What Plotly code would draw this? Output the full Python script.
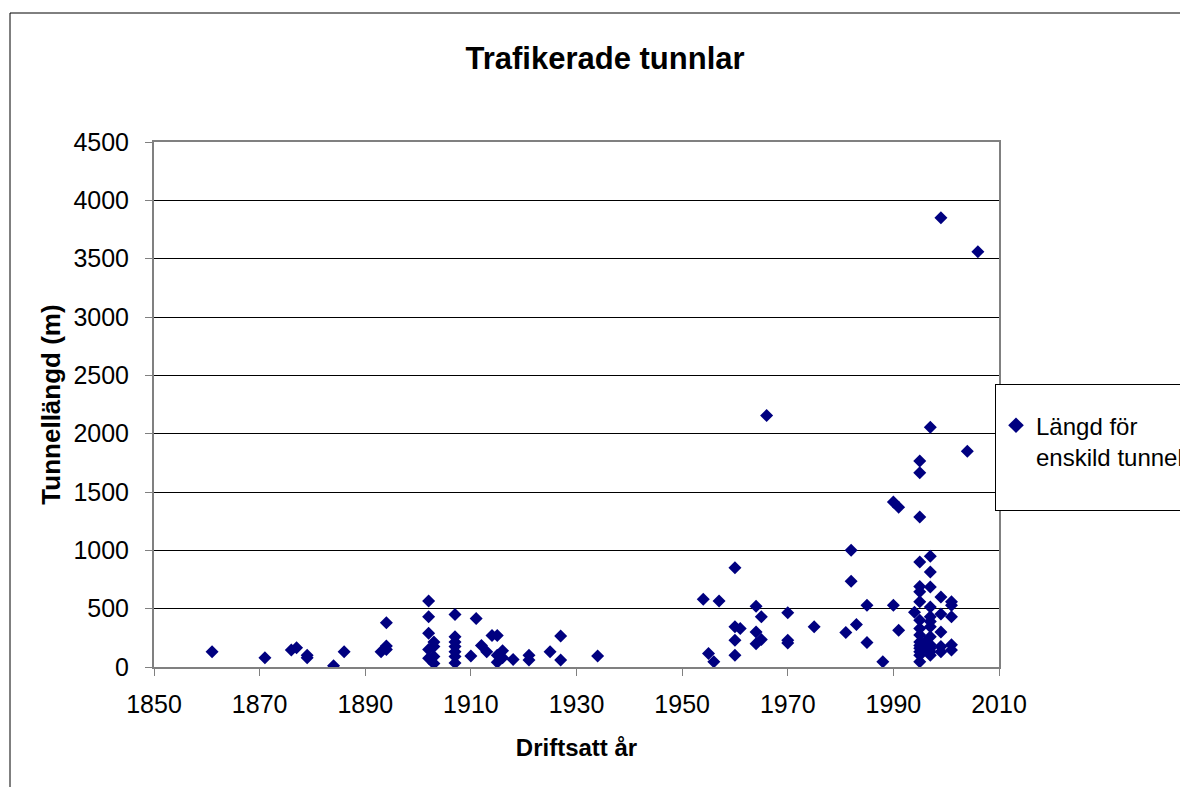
import plotly.graph_objects as go

years = [1861, 1871, 1876, 1877, 1879, 1879, 1884, 1886, 1893, 1894, 1894, 1894,
         1902, 1902, 1902, 1903, 1902, 1903, 1902, 1903, 1903,
         1907, 1907, 1907, 1907, 1907, 1907, 1907,
         1910, 1911, 1912, 1913, 1914, 1915, 1915, 1916, 1915, 1916,
         1918, 1921, 1921, 1925, 1927, 1927, 1934,
         1954, 1955, 1956, 1957,
         1960, 1960, 1961, 1960, 1960,
         1964, 1965, 1964, 1965, 1964,
         1966,
         1970, 1970, 1970,
         1975,
         1981, 1982, 1982, 1983, 1985, 1985, 1988,
         1990, 1991, 1990, 1991,
         1995, 1995, 1995, 1995, 1995, 1995, 1995, 1994, 1995, 1995, 1995, 1995,
         1995, 1995, 1995, 1995, 1995,
         1996, 1996,
         1997, 1997, 1997, 1997, 1997, 1997, 1997, 1997, 1997, 1997, 1997, 1997, 1997,
         1999, 1999, 1999, 1999, 1999, 1999,
         2001, 2001, 2001, 2001, 2001,
         2004, 2006]

lengths = [130, 80, 145, 165, 100, 80, 10, 130, 130, 380, 180, 150,
           565, 430, 290, 215, 150, 90, 75, 30, 175,
           450, 260, 215, 175, 130, 90, 35,
           95, 415, 185, 130, 270, 270, 100, 140, 40, 80,
           65, 100, 60, 130, 265, 60, 95,
           580, 115, 45, 565,
           850, 345, 330, 230, 100,
           520, 430, 300, 235, 200,
           2155,
           465, 230, 205,
           345,
           295, 1000, 735, 365, 530, 210, 45,
           1415, 1370, 530, 315,
           1765, 1665, 1285, 900, 690, 645, 560, 470, 400, 330, 275, 215,
           185, 160, 130, 100, 45,
           215, 160,
           2055, 950, 815, 685, 430, 390, 345, 260, 190, 160, 130, 100, 515,
           3850, 600, 455, 300, 175, 130,
           560, 530, 430, 190, 145,
           1850, 3560]

x_ticks = [1850, 1870, 1890, 1910, 1930, 1950, 1970, 1990, 2010]
y_ticks = [0, 500, 1000, 1500, 2000, 2500, 3000, 3500, 4000, 4500]

FONT = "Liberation Sans, Arial, sans-serif"

# page body has an 8px margin; compensate so that the figure sits where the reference does
OFF = 8
W, H = 1188 - OFF, 787 - OFF
L, R, T, B = 154 - OFF, 999 - OFF, 142 - OFF, 667 - OFF
pw, ph = R - L, B - T


def px(xp):
    return (xp - OFF - L) / pw


def py(yp):
    return (B - (yp - OFF)) / ph


fig = go.Figure()
fig.add_trace(go.Scatter(
    x=years, y=lengths, mode="markers",
    name="Längd för<br>enskild tunnel<br> ",
    marker=dict(symbol="diamond", size=10, color="#000080",
                line=dict(width=0)),
))

fig.update_layout(
    width=W, height=H,
    margin=dict(l=L, r=W - R, t=T, b=H - B, autoexpand=False),
    paper_bgcolor="white", plot_bgcolor="white",
    font=dict(family=FONT, size=24, color="black"),
    title=dict(text="<b>Trafikerade tunnlar</b>", x=(605 - OFF) / W, xanchor="center",
               y=1 - (58 - OFF) / H, yanchor="middle",
               font=dict(family=FONT, size=31, color="black")),
    showlegend=True,
    legend=dict(x=px(995), y=py(384), xanchor="left", yanchor="top",
                bordercolor="black", borderwidth=1, bgcolor="white",
                valign="top",
                title=dict(text=" ", font=dict(family=FONT, size=14)),
                font=dict(family=FONT, size=24, color="black"),
                itemsizing="constant"),
    xaxis=dict(range=[1850, 2010], tickvals=x_ticks, ticktext=[str(v) for v in x_ticks],
               showgrid=False, zeroline=False,
               showline=True, linecolor="#808080", linewidth=2, mirror=True,
               ticks="outside", ticklen=7, tickcolor="#808080", tickwidth=1,
               ticklabelstandoff=7,
               tickfont=dict(family=FONT, size=25),
               title=dict(text="<b>Driftsatt år</b>", standoff=22,
                          font=dict(family=FONT, size=24))),
    yaxis=dict(range=[0, 4500], tickvals=y_ticks, ticktext=[str(v) for v in y_ticks],
               showgrid=True, gridcolor="black", gridwidth=1, zeroline=False,
               showline=True, linecolor="#808080", linewidth=2, mirror=True,
               ticks="outside", ticklen=7, tickcolor="#808080", tickwidth=1,
               ticklabelstandoff=11,
               tickfont=dict(family=FONT, size=25),
               title=dict(text="<b>Tunnellängd (m)</b>", standoff=5,
                          font=dict(family=FONT, size=26))),
    shapes=[dict(type="rect", xref="paper", yref="paper",
                 x0=px(10), x1=px(1400), y0=py(1000), y1=py(13),
                 line=dict(color="black", width=1), fillcolor="rgba(0,0,0,0)",
                 layer="below")],
)

fig.write_html("out.html")
